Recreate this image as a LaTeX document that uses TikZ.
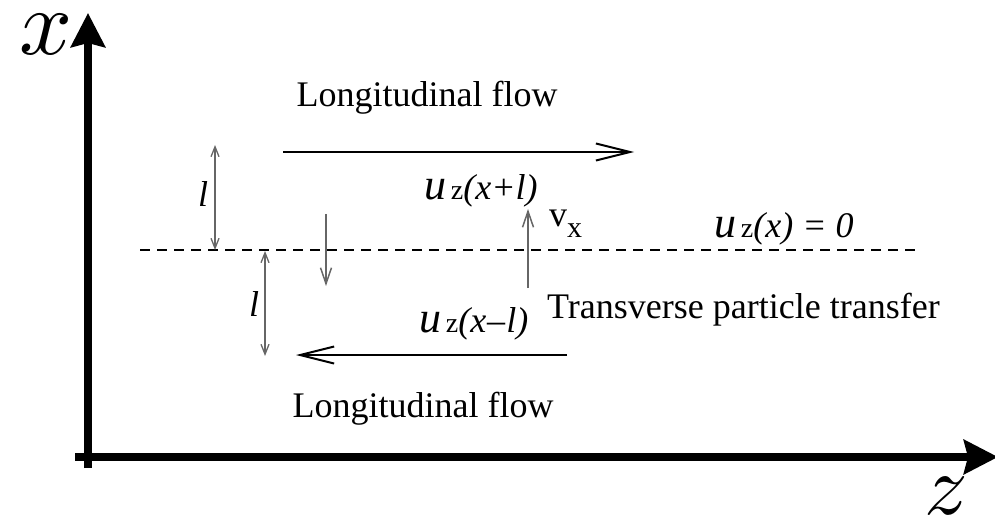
\documentclass[tikz,border=0pt]{standalone}
\usepackage{fix-cm}
\usepackage{graphicx}
\usepackage{fontspec}
\setmainfont{Liberation Serif}
\usetikzlibrary{arrows.meta}
\tikzset{
  axis/.style={line width=8pt,-{Stealth[length=34pt,width=34pt,inset=4pt]}},
  flow/.style={line width=2pt,-{Straight Barb[length=34pt,width=17pt,line width=2pt]}},
  dimarrow/.style={draw=black!60,line width=1.3pt,{Straight Barb[length=10pt,width=8pt]}-{Straight Barb[length=10pt,width=8pt]}},
  transarrow/.style={draw=black!60,line width=1.5pt,-{Straight Barb[length=16pt,width=11pt]}},
  lbl/.style={inner sep=0pt,font=\fontsize{36}{40}\selectfont},
  lab/.style={inner sep=0pt},
}
\newcommand{\uu}{{\fontsize{44}{44}\selectfont\itshape u}}
\newcommand{\zz}{{\fontsize{28}{28}\selectfont\,z}}
\newcommand{\pp}[1]{{\fontsize{36}{36}\selectfont\itshape #1}}
\begin{document}
\begin{tikzpicture}[x=1pt,y=-1pt]
\useasboundingbox (0,0) rectangle (995,521);
% axes
\coordinate (o1) at (88,468);
\coordinate (xt) at (88,13);
\coordinate (o2) at (75,457);
\coordinate (zt) at (998,457);
\draw[axis] (o1) -- (xt);
\draw[axis] (o2) -- (zt);
\node[lab,anchor=base] (xl) at (46,55) {\scalebox{9.3}{$x$}};
\node[lab,anchor=base] (zl) at (946,514) {\scalebox{8.6}{$z$}};
% dashed line
\coordinate (d1) at (140,250);
\coordinate (d2) at (920,250);
\draw[line width=2pt,dash pattern=on 10pt off 7pt] (d1) -- (d2);
% flow arrows
\coordinate (f1a) at (283,152);
\coordinate (f1b) at (634,152);
\draw[flow] (f1a) -- (f1b);
\coordinate (f2a) at (567,355);
\coordinate (f2b) at (296,355);
\draw[flow] (f2a) -- (f2b);
% flow labels
\node[lbl,anchor=base] (lf1) at (427,107) {Longitudinal flow};
\node[lbl,anchor=base] (lf2) at (423,417) {Longitudinal flow};
\node[lbl,anchor=base west] (tpt) at (547,318) {Transverse particle transfer};
% mixing length arrows
\coordinate (m1a) at (215,145);
\coordinate (m1b) at (215,250);
\draw[dimarrow] (m1a) -- (m1b);
\node[lab,anchor=base] (l1) at (203,207) {\fontsize{36}{36}\selectfont\itshape l};
\coordinate (m2a) at (265,251);
\coordinate (m2b) at (265,356);
\draw[dimarrow] (m2a) -- (m2b);
\node[lab,anchor=base] (l2) at (254,316) {\fontsize{36}{36}\selectfont\itshape l};
% transverse arrows
\coordinate (t1a) at (326,214);
\coordinate (t1b) at (326,286);
\draw[transarrow] (t1a) -- (t1b);
\coordinate (t2a) at (528,288);
\coordinate (t2b) at (528,209);
\draw[transarrow] (t2a) -- (t2b);
% velocity labels
\node[lab,anchor=base west] (up) at (424,200) {\uu\zz\pp{(x+l)}};
\node[lab,anchor=base west] (um) at (419,332) {\uu\zz\pp{(x\kern1pt\textendash\kern1pt l)}};
\node[lab,anchor=base west] (u0) at (714,237) {\uu\zz\pp{(x) = 0}};
\node[lab,anchor=base west] (vx) at (549,227) {\fontsize{36}{36}\selectfont v\raisebox{-10pt}{\fontsize{30}{30}\selectfont x}};
\end{tikzpicture}
\end{document}
